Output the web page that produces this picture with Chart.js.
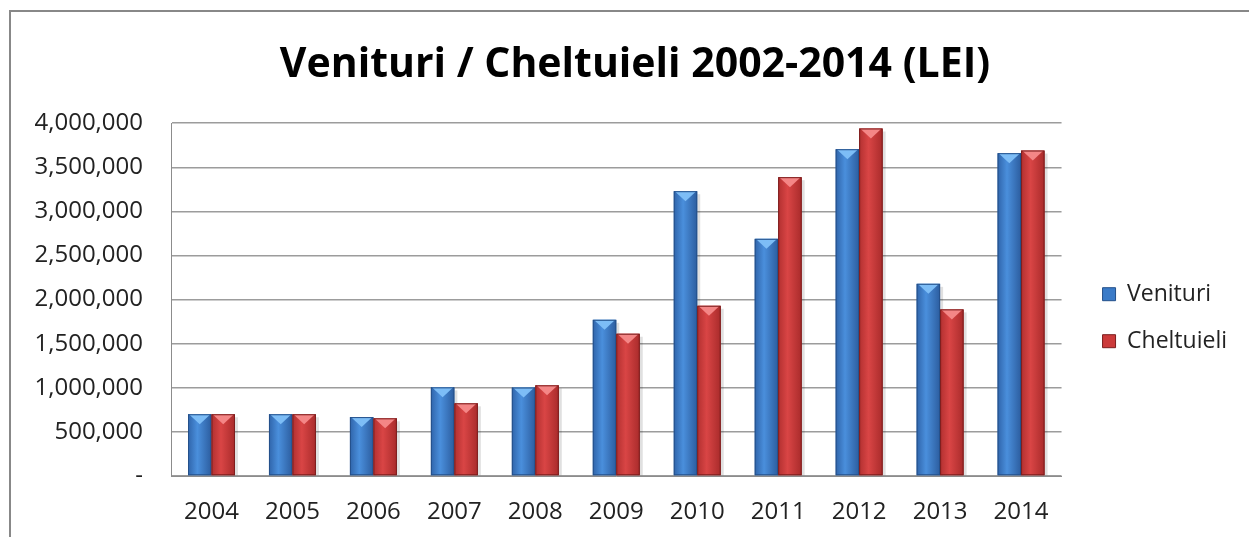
<!DOCTYPE html>
<html>
<head>
<meta charset="utf-8">
<script src="https://cdn.jsdelivr.net/npm/chart.js@4.4.1/dist/chart.umd.min.js"></script>
<style>
html, body { margin: 0; padding: 0; background: #fff; }
#wrap { position: relative; width: 1249px; height: 537px; overflow: hidden; }
#frame { position: absolute; left: 9px; top: 10px; width: 1300px; height: 600px;
         border-left: 2px solid #888; border-top: 2px solid #888; }
#myChart { position: absolute; left: 0; top: 0; }
</style>
</head>
<body>
<div id="wrap">
  <div id="frame"></div>
  <canvas id="myChart" width="1249" height="537"></canvas>
</div>
<script>
var years = ["2004", "2005", "2006", "2007", "2008", "2009", "2010", "2011", "2012", "2013", "2014"];
var venituri = [700000, 700000, 668000, 1005000, 1003000, 1771000, 3229000, 2689000, 3705000, 2179000, 3660000];
var cheltuieli = [700000, 700000, 654000, 824000, 1028000, 1613000, 1930000, 3388000, 3940000, 1889000, 3690000];
var yMax = 4000000;
var yStep = 500000;

// shading for the "bevelled" bars, one entry per dataset
var palettes = [
    { edge: '#2f64aa', light: '#4a8fdc', dark: '#2c5d9f', top: '#7dbdf6', line: '#24508a' },
    { edge: '#b23030', light: '#d94545', dark: '#a92b2b', top: '#f48686', line: '#7c1e1e' }
];

var bevelPlugin = {
    id: 'bevel',
    afterDatasetsDraw: function(chart) {
        var ctx = chart.ctx;
        ctx.save();
        chart.data.datasets.forEach(function(ds, i) {
            var meta = chart.getDatasetMeta(i);
            var pal = palettes[i];
            meta.data.forEach(function(bar) {
                var p = bar.getProps(['x', 'y', 'base', 'width'], true);
                var l = p.x - p.width / 2, r = p.x + p.width / 2, t = p.y, b = p.base;
                // soft shadow on the right
                ctx.fillStyle = 'rgba(0,0,0,0.12)';
                ctx.fillRect(r, t + 3, 3, b - t - 3);
                var g = ctx.createLinearGradient(l, 0, r, 0);
                g.addColorStop(0, pal.edge);
                g.addColorStop(0.4, pal.light);
                g.addColorStop(1, pal.dark);
                ctx.fillStyle = g;
                ctx.fillRect(l, t, r - l, b - t);
                ctx.beginPath();
                ctx.moveTo(l + 1, t);
                ctx.lineTo(r - 1, t);
                ctx.lineTo(p.x, t + 10);
                ctx.closePath();
                ctx.fillStyle = pal.top;
                ctx.fill();
                ctx.strokeStyle = pal.line;
                ctx.lineWidth = 1;
                ctx.strokeRect(l + 0.5, t + 0.5, r - l - 1, b - t - 1);
            });
        });
        ctx.restore();
    }
};

new Chart(document.getElementById('myChart'), {
    type: 'bar',
    data: {
        labels: years,
        datasets: [{
            label: 'Venituri',
            data: venituri,
            backgroundColor: '#3a7bc8',
            borderColor: '#24508a',
            borderWidth: 1
        }, {
            label: 'Cheltuieli',
            data: cheltuieli,
            backgroundColor: '#cc3a3a',
            borderColor: '#7c1e1e',
            borderWidth: 1
        }]
    },
    plugins: [bevelPlugin],
    options: {
        responsive: false,
        animation: false,
        devicePixelRatio: 1,
        layout: { padding: { left: 33, right: 12, top: 0, bottom: 12 } },
        datasets: { bar: { categoryPercentage: 0.58, barPercentage: 1 } },
        scales: {
            x: {
                grid: { display: false, drawTicks: false },
                border: { display: true, color: '#8c8c8c', width: 1 },
                ticks: { padding: 22, color: '#222', font: { family: 'Open Sans', size: 24 } },
                afterFit: function(s) { s.height = 49; }
            },
            y: {
                min: 0,
                max: yMax,
                grid: { color: '#9c9c9c', lineWidth: 1.5, drawTicks: false },
                border: { display: true, color: '#8c8c8c', width: 1 },
                ticks: {
                    stepSize: yStep,
                    padding: 28,
                    color: '#222',
                    font: { family: 'Open Sans', size: 24 },
                    callback: function(v) { return v === 0 ? '-' : v.toLocaleString('en-US'); }
                },
                afterFit: function(s) { s.width = 138; }
            },
            y2: {
                type: 'linear',
                position: 'right',
                display: true,
                grid: { display: false },
                border: { display: false },
                ticks: { display: false },
                afterFit: function(s) { s.width = 17; }
            }
        },
        plugins: {
            title: {
                display: true,
                text: 'Venituri / Cheltuieli 2002-2014 (LEI)',
                color: '#000',
                font: { family: 'Open Sans', size: 41, weight: 'bold' },
                padding: { top: 41, bottom: 33 }
            },
            legend: {
                position: 'right',
                fullSize: false,
                align: 'center',
                title: { display: true, text: ' ', font: { size: 1 }, padding: { top: 35, bottom: 0 } },
                labels: {
                    boxWidth: 13,
                    boxHeight: 13,
                    padding: 24,
                    color: '#222',
                    font: { family: 'Open Sans', size: 23 }
                }
            },
            tooltip: { enabled: false }
        }
    }
});
</script>
</body>
</html>
